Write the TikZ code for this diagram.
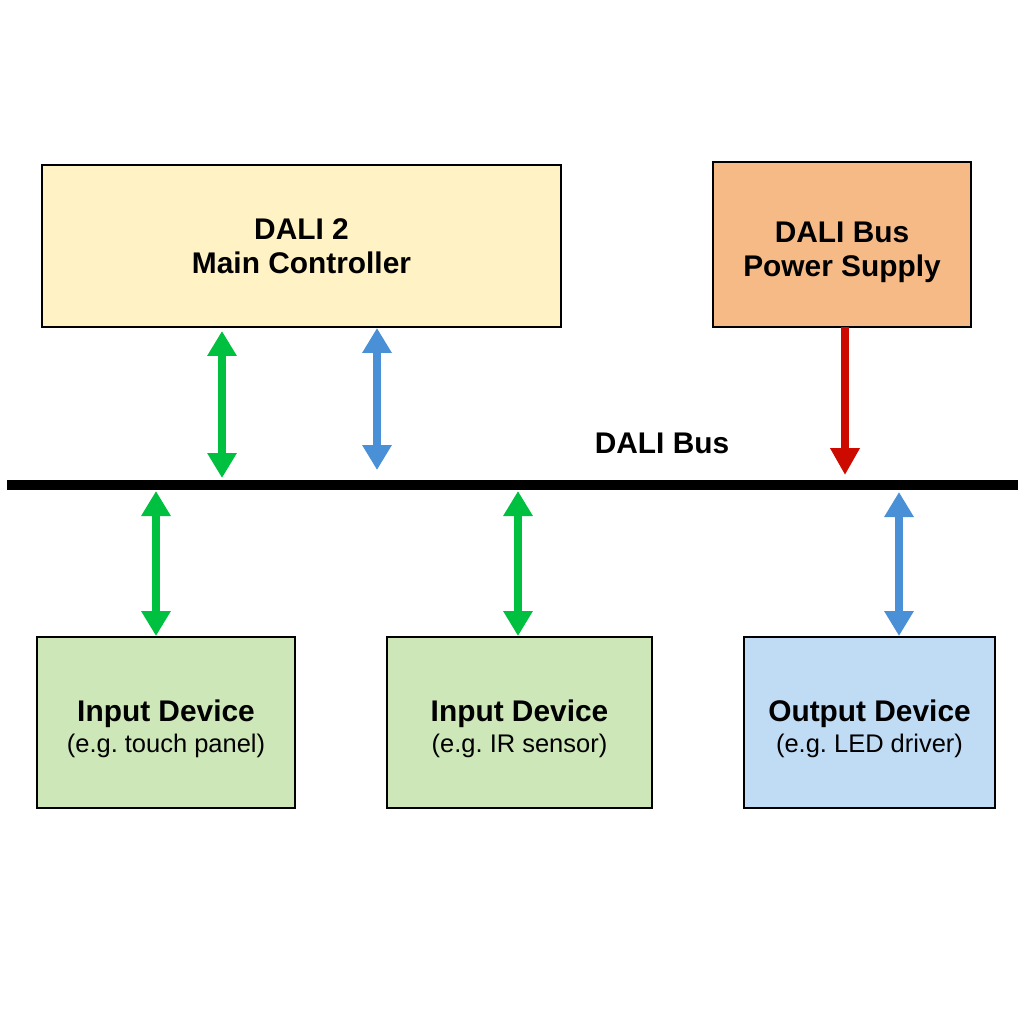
\documentclass[tikz,border=0pt]{standalone}
\usepackage{fontspec}
\setmainfont{Liberation Sans}
\usepackage{tikz}
\usetikzlibrary {arrows.meta,
                 positioning}
\definecolor{ctrlfill}{HTML}{FFF2C4}
\definecolor{psufill}{HTML}{F6BA87}
\definecolor{infill}{HTML}{CDE7B9}
\definecolor{outfill}{HTML}{C0DCF5}
\definecolor{greenarr}{HTML}{00C040}
\definecolor{bluearr}{HTML}{4A90D6}
\definecolor{redarr}{HTML}{CC0A00}
\newcommand{\devtext}[2]{\rule{0pt}{19.5pt}{\fontsize{17}{19.3}\selectfont\bfseries #1}\\[3pt]
         {\fontsize{14.5}{17}\selectfont #2}}
\tikzset{
        base/.style={draw, line width=1.1pt, align=center, inner sep=0pt,
                     outer sep=0pt},
        ctrl/.style={base, fill=ctrlfill, minimum width=10.38cm,
                     minimum height=3.24cm},
        psu/.style={base, fill=psufill, minimum width=5.16cm,
                    minimum height=3.30cm},
        dev/.style={base, minimum height=3.42cm},
        title/.style={font=\fontsize{17}{19.3}\selectfont\bfseries},
        bus/.style={line width=6.2pt},
        myarrow/.style={line width=4.3pt,
                        {Triangle[width=0.56cm,length=0.5cm]}-{Triangle[width=0.56cm,length=0.5cm]}},
        feedarrow/.style={line width=4.8pt, -{Triangle[width=0.56cm,length=0.54cm]}},
 }

\begin{document}
\begin{tikzpicture}[x=0.02cm, y=-0.02cm]
    \useasboundingbox (0,0) rectangle (1024,1024);

    \node[ctrl, title] (controller) at (301.5,246) {DALI 2\\Main Controller};
    \node[psu, title] (supply) at (842,244.5) {\rule{0pt}{21pt}DALI Bus\\Power Supply};

    \coordinate (busL) at (7,485);
    \coordinate (busR) at (1018,485);
    \draw[bus] (busL) -- (busR);
    \node[title] (buslabel) at (662,443) {DALI Bus};

    \node[dev, fill=infill, minimum width=5.16cm] (input1) at (166,722.5)
        {\devtext{Input Device}{(e.g.\ touch panel)}};
    \node[dev, fill=infill, minimum width=5.30cm] (input2) at (519.5,722.5)
        {\devtext{Input Device}{(e.g.\ IR sensor)}};
    \node[dev, fill=outfill, minimum width=5.02cm] (output) at (869.5,722.5)
        {\devtext{Output Device}{(e.g.\ LED driver)}};

    % taps on the bus
    \coordinate (tapA) at (222,478);
    \coordinate (tapB) at (377,470);
    \coordinate (tapC) at (845,475);
    \coordinate (tapD) at (156,491);
    \coordinate (tapE) at (518,491);
    \coordinate (tapF) at (899,492);

    \draw[myarrow, greenarr] ([yshift=-0.08cm]controller.south -| tapA) -- (tapA);
    \draw[myarrow, bluearr] ([yshift=-0.02cm]controller.south -| tapB) -- (tapB);
    \draw[feedarrow, redarr] (supply.south -| tapC) -- (tapC);

    \draw[myarrow, greenarr] (tapD) -- ([yshift=0.02cm]input1.north -| tapD);
    \draw[myarrow, greenarr] (tapE) -- ([yshift=0.02cm]input2.north -| tapE);
    \draw[myarrow, bluearr] (tapF) -- ([yshift=0.02cm]output.north -| tapF);
\end{tikzpicture}
\end{document}
